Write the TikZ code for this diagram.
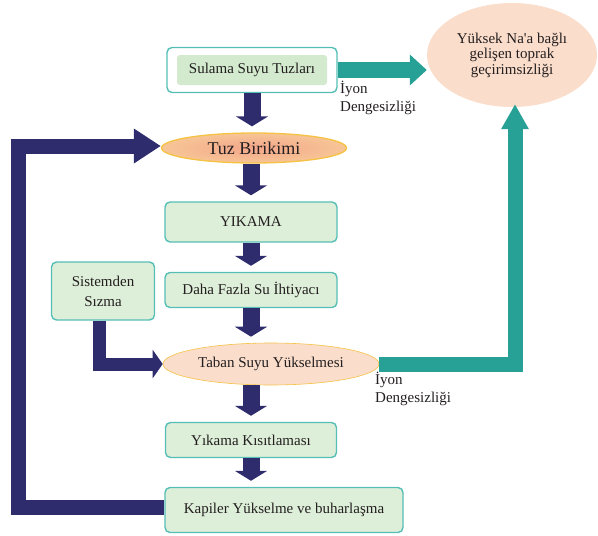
\documentclass[tikz,border=0pt]{standalone}
\usepackage{fontspec}
\setmainfont{Liberation Serif}
\newfontfamily\plainrm{Liberation Serif}
\usepackage{tikz}
\usetikzlibrary{positioning,arrows.meta,shapes.geometric}
\usepackage{xcolor}
\definecolor{navy}{HTML}{2E2C6D}
\definecolor{teal}{HTML}{27A096}
\definecolor{frame}{HTML}{55BFB5}
\definecolor{mint}{HTML}{DEEFD9}
\definecolor{mintin}{HTML}{D3EACE}
\definecolor{peach}{HTML}{FBDDCB}
\definecolor{gold}{HTML}{F5C243}
\definecolor{tuzout}{HTML}{F7C596}
\definecolor{tuzin}{HTML}{F3A68A}
\definecolor{ink}{HTML}{231F20}

\tikzset{
  stepbox/.style={draw=frame, line width=1.4pt, fill=mint, rounded corners=5pt,
    inner sep=2pt, align=center, text=ink, font=\fontsize{15}{15.5}\selectfont},
  blob/.style={ellipse, inner sep=0pt, align=center, text=ink,
    font=\fontsize{15}{15.5}\selectfont},
  navyarrow/.style={navy, line width=17pt, shorten >=6pt,
    -{Triangle[length=10pt,width=32pt]}},
  loopline/.style={navy, line width=15pt,
    -{Triangle[length=27pt,width=33pt]}},
  tealarrow/.style={teal, line width=16pt,
    -{Triangle[length=17pt,width=30pt]}},
  note/.style={anchor=north west, align=left, inner sep=0pt, text=ink,
    font=\fontsize{15}{18}\selectfont}
}

\begin{document}
\begin{tikzpicture}[x=1pt,y=-1pt]
  \useasboundingbox (0,0) rectangle (598,536);

  % nodes of the chain
  \node[stepbox, fill=white, minimum width=170pt, minimum height=45pt] (sul) at (252,70) {};
  \node[fill=mintin, rounded corners=3pt, minimum width=150pt, minimum height=30pt,
        text=ink, font=\fontsize{15}{15.5}\selectfont] (sulin) at (sul) {Sulama Suyu Tuzları};
  \node[blob, draw=gold, line width=1.3pt, inner color=tuzin, outer color=tuzout,
        minimum width=185pt, minimum height=30pt,
        font=\fontsize{18}{19}\selectfont] (tuz) at (254,148) {Tuz Birikimi};
  \node[stepbox, minimum width=172pt, minimum height=40pt] (yik) at (251,222) {YIKAMA};
  \node[stepbox, minimum width=172pt, minimum height=35pt] (daha) at (251,290) {Daha Fazla Su İhtiyacı};
  \node[blob, fill=peach, draw=gold, line width=0.6pt,
        minimum width=216pt, minimum height=42pt] (taban) at (271,364) {Taban Suyu Yükselmesi};
  \node[stepbox, minimum width=171pt, minimum height=35pt] (kis) at (251,440) {Yıkama Kısıtlaması};
  \node[stepbox, minimum width=238pt, minimum height=45pt] (kap) at (284,510) {Kapiler Yükselme ve buharlaşma};
  \node[stepbox, minimum width=103pt, minimum height=58pt,
        font=\fontsize{15}{20}\selectfont] (sis) at (103,291) {Sistemden\\Sızma};
  \node[blob, fill=peach, minimum width=170pt, minimum height=104pt] (yuk) at (512,55)
        {Yüksek Na{\plainrm '}a bağlı\\gelişen toprak\\geçirimsizliği};

  % labels
  \node[note] (ion1) at (340,81) {İyon\\Dengesizliği};
  \node[note] (ion2) at (375,372) {İyon\\Dengesizliği};

  % arrows down the chain
  \draw[navyarrow] (sul.south) -- (sul.south |- tuz.north);
  \draw[navyarrow] (tuz.south -| yik.north) -- (yik.north);
  \draw[navyarrow] (yik.south) -- (daha.north);
  \draw[navyarrow] (daha.south) -- (daha.south |- taban.north);
  \draw[navyarrow] (kis.north |- taban.south) -- (kis.north);
  \draw[navyarrow] (kis.south) -- (kis.south |- kap.north);

  % side connections
  \draw[navy, line width=13pt, -{Triangle[length=10pt,width=28pt]}]
    ([xshift=-4pt]sis.south) |- (taban.west);
  \coordinate (lp) at (18,146);
  \draw[loopline] ([yshift=3pt]kap.west) -| (lp) -- (lp -| tuz.west);
  \draw[tealarrow] (sul.east) -- (sul.east -| yuk.west);
  \draw[teal, line width=15pt, -{Triangle[length=25pt,width=26pt]}]
    (taban.east) -| ([xshift=3pt,yshift=3pt]yuk.south);
\end{tikzpicture}
\end{document}
